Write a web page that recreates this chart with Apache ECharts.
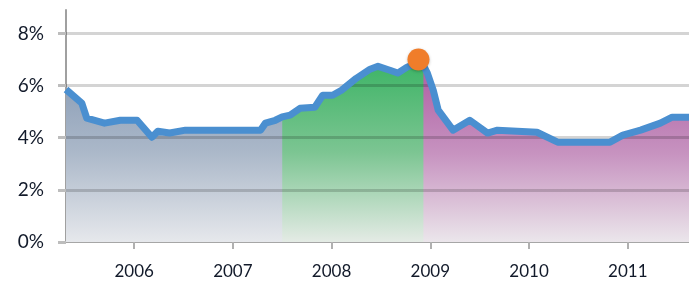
<!DOCTYPE html>
<html>
<head>
<meta charset="utf-8">
<script src="https://cdn.jsdelivr.net/npm/echarts@6/dist/echarts.min.js"></script>
<style>
    html, body { margin: 0; padding: 0; background: #fff; }
    #chart { width: 689px; height: 285px; }
</style>
</head>
<body>
<div id="chart"></div>
<script>
// 年份(小数) 与 利率(%)
var years = [2005.31, 2005.47, 2005.52, 2005.70, 2005.86, 2006.03, 2006.18, 2006.24, 2006.36, 2006.52,
    2007.28, 2007.33, 2007.43, 2007.50, 2007.58, 2007.68, 2007.83, 2007.91, 2008.01, 2008.10,
    2008.25, 2008.39, 2008.47, 2008.59, 2008.67, 2008.76, 2008.88, 2008.93, 2008.97, 2009.03,
    2009.08, 2009.23, 2009.40, 2009.58, 2009.68, 2010.08, 2010.29, 2010.82, 2010.95, 2011.13,
    2011.33, 2011.45, 2011.62];
var rates = [5.85, 5.33, 4.75, 4.56, 4.67, 4.67, 4.02, 4.25, 4.18, 4.29,
    4.29, 4.56, 4.67, 4.80, 4.87, 5.13, 5.17, 5.63, 5.63, 5.82,
    6.28, 6.63, 6.74, 6.59, 6.48, 6.70, 6.90, 6.78, 6.48, 5.82,
    5.06, 4.29, 4.67, 4.18, 4.29, 4.21, 3.83, 3.83, 4.10, 4.29,
    4.56, 4.79, 4.79];
var splitYears = [2007.50, 2008.93]; // 区域分段
var peak = [2008.88, 7.0];
var yearTicks = [2006, 2007, 2008, 2009, 2010, 2011];
var pctTicks = [0, 2, 4, 6, 8];
var gridValues = [2, 4, 6, 8];

var points = years.map(function (t, i) { return [t, rates[i]]; });
var lastYear = years[years.length - 1];
function part(a, b) {
    return points.filter(function (p) { return p[0] >= a && p[0] <= b; });
}
function grad(top, mid, bottom) {
    return new echarts.graphic.LinearGradient(0, 0, 0, 1, [
        { offset: 0, color: top },
        { offset: 0.5, color: mid },
        { offset: 1, color: bottom }
    ]);
}
function areaSeries(data, color) {
    return {
        type: 'line',
        data: data,
        symbol: 'none',
        lineStyle: { width: 0 },
        areaStyle: { color: color, opacity: 1 },
        z: 2,
        silent: true
    };
}

var myChart = echarts.init(document.getElementById('chart'));
var labelFont = 'Lato, "Noto Sans", sans-serif';
var option = {
    animation: false,
    grid: { left: 66, right: 0, top: 10, bottom: 43 },
    xAxis: {
        type: 'value',
        min: 2005.31,
        max: 2011.62,
        axisLine: { show: true, lineStyle: { color: '#a6a6a6', width: 2 } },
        axisTick: { show: true, customValues: yearTicks, length: 7, lineStyle: { color: '#b0b0b0', width: 2 } },
        axisLabel: {
            customValues: yearTicks,
            margin: 21,
            fontSize: 17,
            fontFamily: labelFont,
            color: '#121a2a',
            formatter: function (v) { return String(v); }
        },
        splitLine: { show: false }
    },
    yAxis: {
        type: 'value',
        min: 0,
        max: 8.9,
        axisLine: { show: true, lineStyle: { color: '#a0a0a0', width: 2 } },
        axisTick: { show: true, customValues: pctTicks, length: 8, lineStyle: { color: '#bdbdbd', width: 3 } },
        axisLabel: {
            customValues: pctTicks,
            margin: 22,
            fontSize: 19,
            fontFamily: labelFont,
            color: '#121a2a',
            padding: [6, 0, 0, 0],
            formatter: '{value}%'
        },
        splitLine: { show: false }
    },
    series: [
        // 底层灰蓝覆盖全程, 绿色、紫色依次叠加, 避免接缝白线
        areaSeries(part(years[0], lastYear), grad('#8699b3', '#abb8c9', '#e6e8ec')),
        areaSeries(part(splitYears[0], lastYear), grad('#3db466', '#7cc592', '#e4ebe5')),
        areaSeries(part(splitYears[1], lastYear), grad('#ad5ea3', '#c793c0', '#ebe6eb')),
        {
            type: 'line',
            data: [],
            silent: true,
            markLine: {
                silent: true,
                symbol: 'none',
                label: { show: false },
                lineStyle: { type: 'solid', color: 'rgba(0,0,0,0.17)', width: 3 },
                data: gridValues.map(function (v) { return { yAxis: v }; })
            }
        },
        {
            type: 'line',
            data: points,
            symbol: 'none',
            z: 10,
            lineStyle: { color: '#4a8fd0', width: 7, join: 'round' }
        },
        {
            type: 'scatter',
            data: [peak],
            symbolSize: 22,
            z: 11,
            itemStyle: {
                color: '#f07d2a',
                opacity: 1,
                shadowColor: 'rgba(0,0,0,0.25)',
                shadowBlur: 3,
                shadowOffsetY: 1
            }
        }
    ]
};
myChart.setOption(option);
</script>
</body>
</html>
